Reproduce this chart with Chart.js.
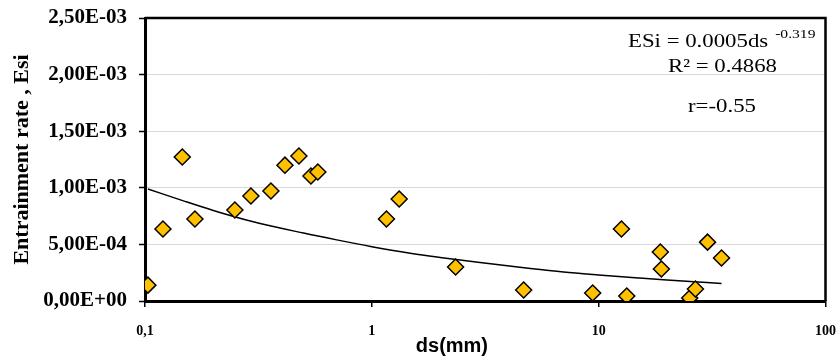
<!DOCTYPE html>
<html>
<head>
<meta charset="utf-8">
<script src="https://cdn.jsdelivr.net/npm/chart.js@4.4.0/dist/chart.umd.min.js"></script>
<style>
  html, body { margin: 0; padding: 0; background: #ffffff; }
  #wrap { width: 837px; height: 361px; position: relative; }
</style>
</head>
<body>
<div id="wrap"><canvas id="c" width="837" height="361"></canvas></div>
<script>
// ---- data ----
const dsValues  = [0.103, 0.120, 0.146, 0.166, 0.249, 0.293, 0.359, 0.414, 0.477, 0.539, 0.578,
                   1.16, 1.32, 2.34, 4.67, 9.41, 12.6, 13.3, 18.7, 18.9, 25.2, 26.7, 30.2, 34.8];
const esiValues = [1.40e-4, 6.36e-4, 1.272e-3, 7.24e-4, 8.04e-4, 9.28e-4, 9.72e-4, 1.20e-3, 1.281e-3, 1.104e-3, 1.14e-3,
                   7.24e-4, 9.01e-4, 3.00e-4, 9.7e-5, 7.1e-5, 6.36e-4, 4.4e-5, 4.33e-4, 2.83e-4, 2.7e-5, 1.06e-4, 5.2e-4, 3.8e-4];

// power trend line as drawn in the picture
const trendDs  = [0.103, 0.15, 0.2, 0.3, 0.5, 0.7, 1, 1.5, 2, 3, 5, 7, 10, 15, 20, 30, 34.8];
const trendEsi = [9.9e-4, 8.8e-4, 8.0e-4, 7.0e-4, 6.0e-4, 5.4e-4, 4.8e-4, 4.2e-4, 3.85e-4, 3.4e-4, 2.87e-4, 2.56e-4, 2.30e-4, 2.03e-4, 1.85e-4, 1.63e-4, 1.55e-4];

const xTickValues = [0.1, 1, 10, 100];
const xTickLabels = ['0,1', '1', '10', '100'];
const yTickValues = [0, 0.0005, 0.001, 0.0015, 0.002, 0.0025];
const yTickLabels = ['0,00E+00', '5,00E-04', '1,00E-03', '1,50E-03', '2,00E-03', '2,50E-03'];

const yTitle = 'Entrainment rate , Esi';
const xTitle = 'ds(mm)';
const eqMain = 'ESi = 0.0005ds';
const eqSup = '-0.319';
const r2Text = 'R\u00B2 = 0.4868';
const rText = 'r=-0.55';

const scatterPts = dsValues.map((x, i) => ({ x: x, y: esiValues[i] }));
const trendPts = trendDs.map((x, i) => ({ x: x, y: trendEsi[i] }));

const decorPlugin = {
  id: 'decor',
  afterDraw(chart) {
    const ctx = chart.ctx;
    const a = chart.chartArea;
    ctx.save();
    // frame (top and right sides)
    ctx.strokeStyle = '#000';
    ctx.lineWidth = 2.5;
    ctx.beginPath();
    ctx.moveTo(a.left, a.top);
    ctx.lineTo(a.right, a.top);
    ctx.lineTo(a.right, a.bottom);
    ctx.stroke();

    // x axis title
    ctx.fillStyle = '#000';
    ctx.font = 'bold 20px "Liberation Sans", Arial, sans-serif';
    ctx.textAlign = 'center';
    ctx.textBaseline = 'middle';
    ctx.fillText(xTitle, a.left + (a.right - a.left) * 0.451, 346);

    // equation annotations (slightly widened like the reference)
    const sx = 1.2;
    ctx.textAlign = 'left';
    ctx.textBaseline = 'alphabetic';
    function txt(s, x, y, size) {
      ctx.save();
      ctx.font = size + 'px "Liberation Serif", "Times New Roman", serif';
      ctx.translate(x, y);
      ctx.scale(sx, 1);
      ctx.fillText(s, 0, 0);
      const w = ctx.measureText(s).width * sx;
      ctx.restore();
      return w;
    }
    const w1 = txt(eqMain, 628, 47, 19);
    txt(eqSup, 628 + w1 + 7, 38, 13);
    txt(r2Text, 668, 72, 19);
    txt(rText, 688, 112, 19);
    ctx.restore();
  }
};

new Chart(document.getElementById('c'), {
  type: 'scatter',
  data: {
    datasets: [
      {
        label: 'Esi',
        data: scatterPts,
        pointStyle: 'rectRot',
        pointRadius: 8,
        pointHoverRadius: 8,
        backgroundColor: '#FFC000',
        borderColor: '#000000',
        borderWidth: 1.5,
        showLine: false
      },
      {
        label: 'trend',
        type: 'line',
        data: trendPts,
        borderColor: '#000000',
        borderWidth: 1.5,
        pointRadius: 0,
        fill: false,
        tension: 0.4,
        cubicInterpolationMode: 'monotone'
      }
    ]
  },
  options: {
    responsive: false,
    animation: false,
    devicePixelRatio: 1,
    layout: { padding: { top: 18, right: 11, left: 0, bottom: 0 } },
    plugins: {
      legend: { display: false },
      tooltip: { enabled: false }
    },
    scales: {
      x: {
        type: 'logarithmic',
        min: 0.1,
        max: 100,
        afterBuildTicks(scale) { scale.ticks = xTickValues.map(v => ({ value: v })); },
        afterFit(scale) { scale.height = 60; },
        ticks: {
          autoSkip: false,
          maxRotation: 0,
          padding: 1,
          color: '#000',
          font: { family: '"Liberation Serif", "Times New Roman", serif', size: 14, weight: 'bold', lineHeight: 3.4 },
          callback: (v, i) => xTickLabels[i]
        },
        grid: { display: true, drawOnChartArea: false, drawTicks: true, tickLength: 6, color: '#000', tickColor: '#000', lineWidth: 1.5 },
        border: { display: true, color: '#000', width: 3 }
      },
      y: {
        type: 'linear',
        min: 0,
        max: 0.0025,
        afterBuildTicks(scale) { scale.ticks = yTickValues.map(v => ({ value: v })); },
        afterFit(scale) { scale.width = 145; },
        ticks: {
          autoSkip: false,
          padding: 12,
          color: '#000',
          font: { family: '"Liberation Serif", "Times New Roman", serif', size: 21, weight: 'bold', lineHeight: 0.5 },
          callback: (v, i) => yTickLabels[i]
        },
        grid: { color: '#d9d9d9', lineWidth: 1, drawTicks: true, tickLength: 6, tickColor: '#000', tickWidth: 1.5 },
        border: { display: true, color: '#000', width: 3 },
        title: {
          display: true,
          text: yTitle,
          color: '#000',
          padding: { top: 9, bottom: 0 },
          font: { family: '"Liberation Serif", "Times New Roman", serif', size: 22, weight: 'bold' }
        }
      }
    }
  },
  plugins: [decorPlugin]
});
</script>
</body>
</html>
